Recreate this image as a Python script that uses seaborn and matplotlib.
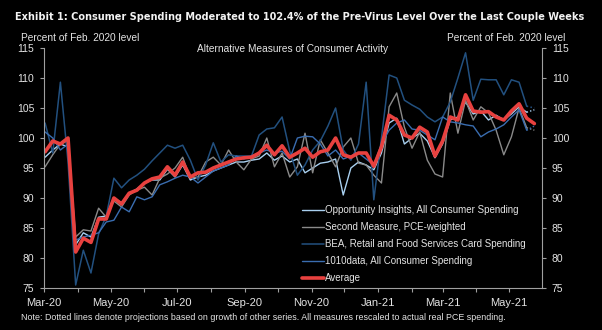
import numpy as np
import pandas as pd
import matplotlib
matplotlib.use("Agg")
import matplotlib.pyplot as plt
import matplotlib.dates as mdates
from matplotlib import font_manager
import seaborn as sns

# ---- data (weekly, percent of Feb. 2020 level) ----
start_date = "2020-03-02"
n_weeks = 65

opportunity_insights = [96.8, 98.0, 99.0, 98.5, 82.2, 84.2, 83.5, 86.8, 87.0, 90.0,
                        89.2, 90.8, 91.5, 92.5, 93.0, 93.0, 94.8, 93.5, 95.5, 93.0,
                        93.5, 93.8, 94.5, 95.0, 95.5, 96.0, 96.0, 96.3, 96.5, 97.5,
                        96.3, 97.0, 96.0, 96.5, 94.2, 95.0, 95.8, 96.0, 96.5, 90.5,
                        95.0, 96.0, 95.5, 94.7, 97.5, 102.5, 103.3, 99.0, 100.0, 100.8,
                        99.5, 96.7, 99.0, 103.0, 103.5, 106.0, 104.0, 104.5, 103.0, 103.8,
                        103.0, 104.0, 105.2, 104.3, 104.7]
second_measure = [95.2, 97.2, 99.0, 99.5, 83.5, 84.7, 84.5, 88.3, 86.8, 89.5,
                  88.5, 90.5, 91.3, 91.8, 90.5, 93.3, 94.0, 95.0, 96.8, 93.3,
                  93.5, 96.0, 96.8, 95.5, 98.0, 96.0, 94.7, 96.5, 97.0, 100.0,
                  95.2, 97.5, 93.5, 95.2, 100.8, 94.2, 99.7, 97.5, 95.2, 98.5,
                  100.0, 95.8, 95.5, 93.8, 92.5, 105.2, 107.5, 101.8, 98.3, 101.0,
                  96.3, 94.0, 93.5, 107.5, 100.8, 106.3, 103.0, 105.2, 104.2, 101.3,
                  97.2, 100.2, 105.0, 101.7, 101.3]
bea_card = [102.5, 97.5, 109.3, 96.0, 75.5, 81.3, 77.5, 84.0, 87.0, 93.3,
            91.7, 93.0, 93.8, 94.8, 96.2, 97.5, 98.8, 98.3, 98.8, 96.3,
            93.0, 95.5, 99.2, 96.0, 97.2, 97.0, 97.0, 97.0, 100.5, 101.5,
            101.7, 103.5, 97.8, 93.8, 95.5, 98.0, 99.5, 102.0, 105.0, 98.0,
            96.3, 99.0, 109.3, 89.7, 100.0, 110.5, 110.0, 106.3, 105.5, 104.8,
            103.5, 102.7, 103.5, 106.0, 110.0, 114.2, 106.3, 109.8, 109.7, 109.7,
            107.2, 109.7, 109.3, 105.3, 105.0]
data_1010 = [101.0, 100.0, 98.0, 99.0, 83.0, 83.5, 83.8, 84.2, 86.0, 86.3,
             88.5, 87.7, 90.2, 89.7, 90.2, 92.2, 92.7, 93.3, 93.8, 93.5,
             92.5, 93.5, 94.5, 95.0, 95.5, 97.0, 96.5, 97.0, 97.5, 98.0,
             97.5, 97.8, 96.5, 100.0, 100.3, 100.2, 99.0, 97.0, 98.0, 96.5,
             97.0, 97.5, 96.5, 95.5, 99.0, 101.3, 102.5, 103.0, 101.5, 101.3,
             100.5, 99.7, 103.5, 102.7, 102.5, 102.2, 102.0, 100.2, 101.0, 101.5,
             102.2, 103.5, 104.7, 101.3, 102.0]
average = [97.7, 99.5, 99.0, 100.0, 81.0, 83.3, 82.6, 86.5, 86.5, 90.0,
           89.0, 90.8, 91.3, 92.5, 93.2, 93.5, 95.2, 93.8, 96.0, 93.5,
           94.2, 94.3, 95.0, 95.5, 96.0, 96.5, 96.7, 96.8, 97.5, 98.8,
           97.2, 98.7, 96.8, 97.5, 98.3, 96.8, 97.7, 98.0, 100.0, 97.2,
           96.8, 97.5, 97.5, 95.3, 98.5, 103.8, 103.0, 100.5, 100.0, 101.8,
           101.0, 97.0, 99.5, 103.5, 103.0, 107.2, 104.5, 104.3, 104.4, 103.5,
           103.0, 104.5, 105.7, 103.3, 102.4]

series_labels = ["Opportunity Insights, All Consumer Spending",
                 "Second Measure, PCE-weighted",
                 "BEA, Retail and Food Services Card Spending",
                 "1010data, All Consumer Spending",
                 "Average"]
y_ticks = [75, 80, 85, 90, 95, 100, 105, 110, 115]

dates = pd.date_range(start_date, periods=n_weeks, freq="7D")
df = pd.DataFrame({"date": dates,
                   series_labels[0]: opportunity_insights,
                   series_labels[1]: second_measure,
                   series_labels[2]: bea_card,
                   series_labels[3]: data_1010,
                   series_labels[4]: average})

# ---- style ----
sns.set_theme(style="dark")
FG = "#e4e4e4"
SPINE = "#a0a0a0"
plt.rcParams["font.family"] = ["Liberation Sans", "DejaVu Sans"]
plt.rcParams.update({
    "figure.facecolor": "black", "axes.facecolor": "black",
    "axes.edgecolor": SPINE, "xtick.color": SPINE, "ytick.color": SPINE,
    "xtick.labelcolor": FG, "ytick.labelcolor": FG,
})

# narrow bold face for the headline, if one is installed
narrow = None
for f in font_manager.fontManager.ttflist:
    tag = (f.name + " " + str(f.stretch)).lower()
    if ("narrow" in tag or "condensed" in tag) and f.weight in (600, 700, "bold"):
        narrow = f.name
        break
title_family = [narrow, "Liberation Sans"] if narrow else ["Liberation Sans"]

colors = ["#a9d0f0", "#8a8a8a", "#22507f", "#3a6db0", "#e8413f"]
widths = [1.0, 1.0, 1.1, 1.0, 2.6]

fig = plt.figure(figsize=(6.02, 3.30), dpi=100)
ax = fig.add_axes([44 / 602, 1 - 288 / 330, 498 / 602, 240 / 330])

for i, name in enumerate(series_labels[:4]):
    sns.lineplot(data=df.iloc[:-1], x="date", y=name, ax=ax, color=colors[i],
                 lw=widths[i], label=name, legend=False)
    # last week is a projection: dotted
    sns.lineplot(data=df.iloc[-2:], x="date", y=name, ax=ax, color=colors[i],
                 lw=widths[i], linestyle=(0, (1, 1.5)), legend=False)
sns.lineplot(data=df, x="date", y=series_labels[4], ax=ax, color=colors[4],
             lw=widths[4], label=series_labels[4], legend=False)

ax.set_xlim(pd.Timestamp("2020-03-01"), pd.Timestamp("2021-05-31"))
ax.set_ylim(75, 115)
ax.set_yticks(y_ticks)
ax.set_xlabel("")
ax.set_ylabel("")
ax.grid(False)
ax.xaxis.set_major_locator(mdates.MonthLocator(bymonth=[1, 3, 5, 7, 9, 11]))
ax.xaxis.set_minor_locator(mdates.MonthLocator())
ax.xaxis.set_major_formatter(mdates.DateFormatter("%b-%y"))

for side in ["top", "right"]:
    ax.spines[side].set_visible(False)
for side in ["left", "bottom"]:
    ax.spines[side].set_color(SPINE)
    ax.spines[side].set_linewidth(0.8)

ax.tick_params(axis="x", which="both", direction="out", length=3, width=0.8,
               pad=4, labelsize=8, bottom=True)
ax.tick_params(axis="y", direction="out", length=3, width=0.8, pad=4,
               labelsize=7.5, left=True)

# right-hand axis mirrors the left scale
ax2 = ax.twinx()
ax2.set_ylim(75, 115)
ax2.set_yticks(y_ticks)
ax2.grid(False)
for side in ["top", "left", "bottom"]:
    ax2.spines[side].set_visible(False)
ax2.spines["right"].set_color(SPINE)
ax2.spines["right"].set_linewidth(0.8)
ax2.tick_params(axis="y", direction="out", length=3, width=0.8, pad=4,
                labelsize=7.5, right=True, colors=SPINE, labelcolor=FG)

leg = ax.legend(loc="lower left", bbox_to_anchor=(0.518, 0.02), frameon=False,
                fontsize=7.0, handlelength=2.3, handletextpad=0.1,
                labelspacing=0.72, borderpad=0, borderaxespad=0)
for t in leg.get_texts():
    t.set_color(FG)

title = fig.text(15 / 602, 1 - 17 / 330,
                 "Exhibit 1: Consumer Spending Moderated to 102.4% of the Pre-Virus Level Over the Last Couple Weeks",
                 color="#f2f2f2", fontsize=11, fontweight="bold", va="center", ha="left",
                 family=title_family)
fig.text(21 / 602, 1 - 38 / 330, "Percent of Feb. 2020 level", color=FG,
         fontsize=7.3, va="center", ha="left")
fig.text(565 / 602, 1 - 38 / 330, "Percent of Feb. 2020 level", color=FG,
         fontsize=7.3, va="center", ha="right")
fig.text(293 / 602, 1 - 49 / 330, "Alternative Measures of Consumer Activity",
         color=FG, fontsize=7.3, va="center", ha="center")
fig.text(21 / 602, 1 - 318 / 330,
         "Note: Dotted lines denote projections based on growth of other series. All measures rescaled to actual real PCE spending.",
         color=FG, fontsize=6.4, va="center", ha="left")

# keep the headline within its 566 px span
fig.canvas.draw()
w = title.get_window_extent(fig.canvas.get_renderer()).width
if w > 566:
    title.set_fontsize(11 * 566 / w)

fig.savefig("out.png", dpi=100, facecolor="black")
